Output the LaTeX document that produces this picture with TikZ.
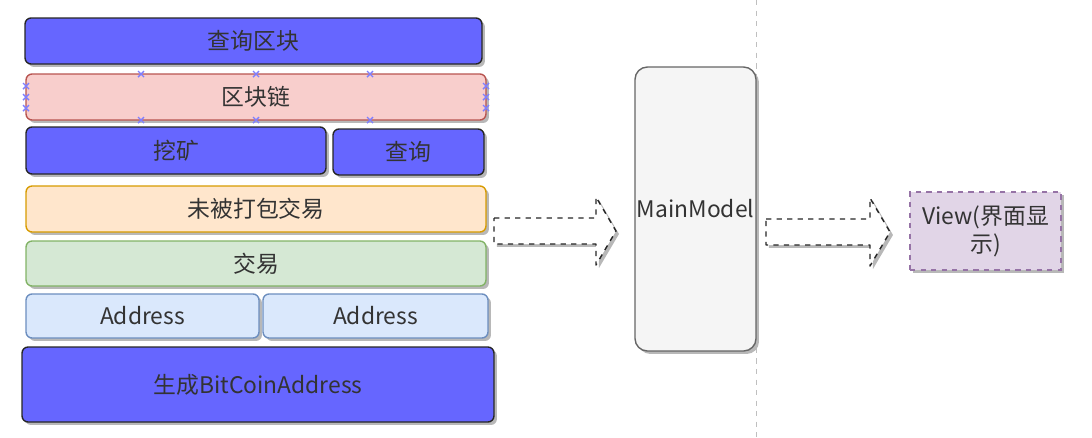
\documentclass[tikz,border=0pt]{standalone}
\usepackage{fontspec}
\setmainfont{Noto Sans CJK SC}
\usetikzlibrary{shadows}
\definecolor{blockblue}{HTML}{6666FF}
\definecolor{redfill}{HTML}{F8CECC}
\definecolor{redline}{HTML}{B85450}
\definecolor{orangefill}{HTML}{FFE6CC}
\definecolor{orangeline}{HTML}{D79B00}
\definecolor{greenfill}{HTML}{D5E8D4}
\definecolor{greenline}{HTML}{82B366}
\definecolor{bluefill}{HTML}{DAE8FC}
\definecolor{blueline}{HTML}{6C8EBF}
\definecolor{greyfill}{HTML}{F5F5F5}
\definecolor{greyline}{HTML}{666666}
\definecolor{purplefill}{HTML}{E1D5E7}
\definecolor{purpleline}{HTML}{9673A6}
\definecolor{textgrey}{HTML}{333333}
\definecolor{handle}{HTML}{7F7FFF}
\begin{document}
\begin{tikzpicture}[
		x=0.02cm, y=-0.02cm,
		font=\fontsize{13}{16}\selectfont, text=textgrey,
		dshadow/.style={drop shadow={shadow xshift=1.7pt, shadow yshift=-1.7pt, fill=black!28, opacity=1}},
		b/.style={rectangle, rounded corners=3.4pt, draw=black!85, fill=blockblue, thick, dshadow, inner sep=0pt},
		l/.style={rectangle, rounded corners=3.4pt, thick, dshadow, inner sep=0pt},
		f/.style={draw=black!85, dashed, fill=white, thick, dshadow, line join=round},
		hmark/.style={draw=handle, thick},
		]
		\useasboundingbox (0, 0) rectangle (1092, 437);
		
		%Grid line
		\draw[black!25, dashed] (756, 0) -- (756, 437);
		
		%Left stack
		\node[b, minimum width=9.14cm, minimum height=0.92cm]	(qblock)	at	(253.5, 41)		{查询区块};
		\node[l, draw=redline, fill=redfill, minimum width=9.2cm, minimum height=0.92cm]	(chain)	at	(256, 97)	{区块链};
		\node[b, minimum width=6cm, minimum height=0.94cm]		(mine)		at	(176, 150.5)	{挖矿};
		\node[b, minimum width=3.02cm, minimum height=0.92cm]	(query)		at	(408.5, 152)	{查询};
		\node[l, draw=orangeline, fill=orangefill, minimum width=9.2cm, minimum height=0.92cm]	(pending)	at	(256, 209)	{未被打包交易};
		\node[l, draw=greenline, fill=greenfill, minimum width=9.2cm, minimum height=0.9cm]	(tx)	at	(256, 263.5)	{交易};
		\node[l, draw=blueline, fill=bluefill, minimum width=4.66cm, minimum height=0.88cm]	(addra)	at	(142.5, 316)	{Address};
		\node[l, draw=blueline, fill=bluefill, minimum width=4.5cm, minimum height=0.88cm]	(addrb)	at	(375.5, 316)	{Address};
		\node[b, minimum width=9.44cm, minimum height=1.5cm]	(gen)		at	(258, 384.5)	{生成BitCoinAddress};
		
		%Selection handles
		\foreach \hx in {141, 256, 370}
			\foreach \hy in {74, 120}
				\draw[hmark] (\hx-3, \hy-3) -- (\hx+3, \hy+3) (\hx-3, \hy+3) -- (\hx+3, \hy-3);
		\foreach \hx in {26, 486}
			\foreach \hy in {86, 97, 108}
				\draw[hmark] (\hx-3, \hy-3) -- (\hx+3, \hy+3) (\hx-3, \hy+3) -- (\hx+3, \hy-3);
		
		%Right side
		\node[l, draw=greyline, fill=greyfill, rounded corners=7pt, minimum width=2.42cm, minimum height=5.68cm]	(main)	at	(695.5, 209)	{MainModel};
		\node[rectangle, draw=purpleline, fill=purplefill, dashed, thick, dshadow, minimum width=3.02cm, minimum height=1.56cm, text width=2.9cm, align=center, inner sep=0pt]	(view)	at	(985.5, 231)	{View(界面显\\示)};
		
		%Flow arrows
		\coordinate (fa) at (494, 231);
		\coordinate (fb) at (766, 232);
		\draw[f] (fa) ++(0, -13) -- ++(102, 0) -- ++(0, -21) -- ++(20, 34) -- ++(-20, 34) -- ++(0, -21) -- ++(-102, 0) -- cycle;
		\draw[f] (fb) ++(0, -13) -- ++(104, 0) -- ++(0, -21) -- ++(20, 34) -- ++(-20, 34) -- ++(0, -21) -- ++(-104, 0) -- cycle;
	\end{tikzpicture}
\end{document}
